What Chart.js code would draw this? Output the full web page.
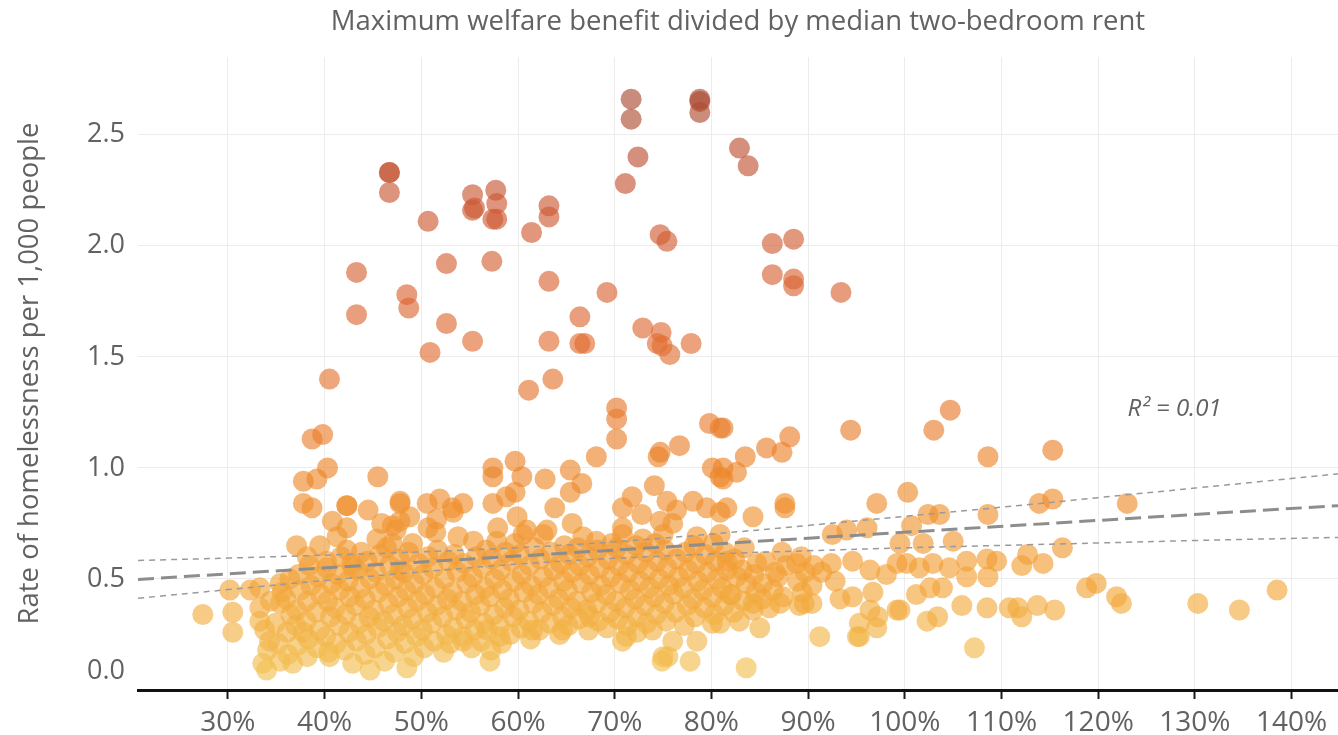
<!DOCTYPE html>
<html>
<head>
<meta charset="utf-8">
<script src="https://cdn.jsdelivr.net/npm/chart.js@4.4.1/dist/chart.umd.min.js"></script>
<style>
  html, body { margin: 0; padding: 0; background: #fff; }
  #wrap { width: 1338px; height: 735px; position: relative; }
</style>
</head>
<body>
<div id="wrap"><canvas id="welfareChart"></canvas></div>
<script>
const chartTitle = 'Maximum welfare benefit divided by median two-bedroom rent';
const yTitle = 'Rate of homelessness per 1,000 people';
const xTicks = [0.3, 0.4, 0.5, 0.6, 0.7, 0.8, 0.9, 1.0, 1.1, 1.2, 1.3, 1.4];
const yTicks = [0, 0.5, 1.0, 1.5, 2.0, 2.5];
const rSquared = '0.01';

// places: [benefit / rent, homeless per 1,000]
const highPoints = [
  [0.467,2.33],[0.467,2.33],[0.467,2.24],[0.433,1.88],[0.433,1.69],[0.507,2.11],[0.526,1.92],
  [0.485,1.78],[0.487,1.72],[0.509,1.52],[0.526,1.65],[0.553,2.23],[0.553,2.16],[0.555,2.17],
  [0.577,2.25],[0.578,2.19],[0.574,2.12],[0.578,2.12],[0.573,1.93],[0.553,1.57],[0.614,2.06],
  [0.632,2.18],[0.632,2.13],[0.632,1.84],[0.632,1.57],[0.636,1.40],[0.611,1.35],[0.664,1.68],
  [0.664,1.56],[0.669,1.56],[0.692,1.79],[0.717,2.66],[0.717,2.57],[0.724,2.40],[0.711,2.28],
  [0.729,1.63],[0.747,2.05],[0.754,2.02],[0.748,1.61],[0.744,1.56],[0.749,1.55],[0.757,1.51],
  [0.779,1.56],[0.788,2.66],[0.788,2.65],[0.788,2.60],[0.829,2.44],[0.838,2.36],[0.863,2.01],
  [0.863,1.87],[0.885,2.03],[0.885,1.85],[0.885,1.82],[0.934,1.79],[0.405,1.40],[0.702,1.27],
  [0.702,1.22],[0.702,1.13],[0.944,1.17],[1.047,1.26],[1.030,1.17],[1.153,1.08],[1.086,1.05]
];

const midPoints = [
  [0.387,1.13],[0.398,1.15],[0.403,1.00],[0.392,0.95],[0.378,0.94],[0.455,0.96],[0.378,0.84],
  [0.387,0.82],[0.423,0.83],[0.423,0.83],[0.445,0.81],[0.408,0.76],[0.423,0.73],[0.478,0.84],
  [0.478,0.85],[0.478,0.76],[0.459,0.75],[0.470,0.74],[0.488,0.78],[0.506,0.84],[0.519,0.86],
  [0.532,0.82],[0.507,0.73],[0.516,0.77],[0.681,1.05],[0.745,1.05],[0.747,1.07],[0.767,1.10],
  [0.798,1.20],[0.809,1.18],[0.801,1.00],[0.809,0.96],[0.574,1.00],[0.574,0.96],[0.597,1.03],
  [0.604,0.96],[0.597,0.89],[0.628,0.95],[0.654,0.99],[0.666,0.93],[0.654,0.89],[0.543,0.84],
  [0.533,0.80],[0.574,0.84],[0.599,0.78],[0.588,0.87],[0.638,0.82],[0.656,0.75],[0.630,0.72],
  [0.609,0.72],[0.579,0.73],[0.718,0.87],[0.708,0.82],[0.708,0.73],[0.728,0.79],[0.741,0.92],
  [0.754,0.85],[0.764,0.81],[0.747,0.76],[0.760,0.75],[0.781,0.85],[0.795,0.82],[0.809,0.80],
  [0.812,1.18],[0.881,1.14],[0.857,1.09],[0.873,1.07],[0.835,1.05],[0.812,1.00],[0.826,0.98],
  [0.812,0.95],[0.816,0.82],[0.843,0.78],[0.876,0.84],[0.876,0.82],[0.971,0.84],[1.003,0.89],
  [1.024,0.79],[1.036,0.79],[1.086,0.79],[1.007,0.74],[0.940,0.72],[0.961,0.73],[0.925,0.70],
  [1.139,0.84],[1.153,0.86],[1.230,0.84],[0.578,0.67],[0.605,0.70],[0.626,0.70],[0.667,0.69],
  [0.681,0.67],[0.708,0.70],[0.729,0.68],[0.750,0.70],[0.785,0.69],[0.809,0.70]
];

const edgePoints = [
  [0.274,0.34],[0.305,0.35],[0.305,0.26],[0.302,0.45],[0.323,0.45],[0.333,0.46],[0.354,0.48],
  [0.371,0.65],[0.395,0.65],[0.413,0.69],[0.382,0.60],[0.402,0.58],[0.423,0.63],[0.429,0.55],
  [0.333,0.37],[0.354,0.39],[0.371,0.36],[0.382,0.40],[0.333,0.31],[0.343,0.22],[0.361,0.26],
  [0.378,0.26],[0.336,0.12],[0.340,0.09],[0.354,0.13],[0.367,0.12],[0.382,0.15],[0.405,0.15],
  [0.429,0.12],[0.447,0.09],[0.485,0.10],[0.470,0.66],[0.491,0.66],[0.478,0.54],[0.442,0.16],
  [0.571,0.13],[0.712,0.24],[0.749,0.13],[0.755,0.15],[0.778,0.13],[0.836,0.10],[0.912,0.24],
  [0.951,0.24],[1.072,0.19],[0.581,0.24],[0.615,0.27],[0.646,0.27],[0.674,0.33],[0.708,0.22],
  [0.723,0.26],[0.750,0.15],[0.801,0.30],[0.785,0.22],[0.760,0.22],[0.739,0.27],[0.530,0.21],
  [0.543,0.22],[0.568,0.27]
];

const rightPoints = [
  [0.953,0.24],[0.971,0.28],[0.972,0.33],[0.992,0.36],[1.023,0.31],[1.034,0.33],[1.059,0.38],
  [1.085,0.37],[1.046,0.55],[1.064,0.58],[1.085,0.59],[1.095,0.58],[1.064,0.51],[1.086,0.51],
  [1.012,0.43],[1.026,0.46],[1.039,0.46],[1.015,0.55],[1.029,0.57],[1.002,0.57],[0.992,0.57],
  [0.964,0.54],[0.967,0.44],[0.946,0.42],[0.933,0.41],[0.928,0.49],[0.914,0.53],[0.924,0.57],
  [0.946,0.58],[0.981,0.52],[0.964,0.36],[0.953,0.30],[0.888,0.57],[0.889,0.49],[0.896,0.39],
  [0.904,0.39],[0.869,0.51],[0.871,0.39],[0.891,0.38],[0.850,0.28],[0.829,0.31],[0.809,0.30],
  [0.819,0.43],[0.832,0.54],[0.847,0.57],[0.853,0.48],[0.860,0.37],[0.843,0.39],[0.816,0.58],
  [1.108,0.37],[1.019,0.66],[1.050,0.67],[0.995,0.66],[1.121,0.56],[1.127,0.61],[1.143,0.57],
  [1.163,0.64],[1.188,0.46],[1.198,0.48],[1.219,0.42],[1.224,0.39],[1.303,0.39],[1.346,0.36],
  [1.385,0.45],[1.117,0.37],[1.121,0.33],[1.137,0.38],[1.155,0.36],[0.995,0.36]
];

const corePoints = [
  [0.341,0.18],[0.338,0.27],[0.344,0.40],[0.352,0.21],[0.349,0.30],[0.356,0.44],
  [0.362,0.16],[0.365,0.34],[0.360,0.41],[0.364,0.50],[0.372,0.20],[0.370,0.29],[0.375,0.45],[0.373,0.52],
  [0.383,0.23],[0.381,0.31],[0.386,0.47],[0.384,0.56],[0.392,0.19],[0.395,0.27],[0.391,0.35],[0.396,0.43],[0.393,0.51],
  [0.404,0.17],[0.401,0.24],[0.406,0.33],[0.403,0.40],[0.407,0.48],[0.402,0.55],
  [0.412,0.21],[0.415,0.29],[0.411,0.37],[0.416,0.45],[0.413,0.52],[0.417,0.60],
  [0.421,0.18],[0.425,0.26],[0.422,0.34],[0.426,0.42],[0.424,0.49],[0.428,0.57],
  [0.433,0.22],[0.436,0.30],[0.432,0.38],[0.437,0.46],[0.434,0.54],[0.438,0.62],
  [0.443,0.25],[0.446,0.33],[0.442,0.41],[0.447,0.50],[0.444,0.58],
  [0.452,0.19],[0.455,0.28],[0.451,0.36],[0.456,0.44],[0.453,0.53],[0.457,0.61],[0.454,0.68],
  [0.462,0.13],[0.465,0.23],[0.461,0.31],[0.466,0.39],[0.463,0.47],[0.467,0.56],[0.464,0.64],
  [0.472,0.17],[0.475,0.26],[0.471,0.34],[0.476,0.42],[0.473,0.50],[0.477,0.59],[0.474,0.72],
  [0.483,0.21],[0.481,0.29],[0.486,0.37],[0.484,0.45],[0.482,0.53],[0.487,0.62],
  [0.492,0.15],[0.495,0.24],[0.491,0.32],[0.496,0.40],[0.493,0.48],[0.497,0.57],
  [0.503,0.19],[0.501,0.27],[0.506,0.35],[0.504,0.43],[0.502,0.52],[0.507,0.60],
  [0.513,0.22],[0.511,0.30],[0.516,0.38],[0.514,0.46],[0.512,0.55],[0.517,0.63],[0.515,0.71],
  [0.523,0.17],[0.526,0.25],[0.522,0.33],[0.527,0.41],[0.524,0.50],[0.528,0.58],
  [0.533,0.28],[0.536,0.36],[0.532,0.44],[0.537,0.53],[0.534,0.61],[0.538,0.69],
  [0.543,0.24],[0.546,0.32],[0.542,0.40],[0.547,0.48],[0.544,0.57],
  [0.552,0.19],[0.555,0.27],[0.551,0.35],[0.556,0.43],[0.553,0.51],[0.557,0.60],[0.554,0.67],
  [0.562,0.22],[0.565,0.30],[0.561,0.38],[0.566,0.46],[0.563,0.55],[0.567,0.63],
  [0.572,0.18],[0.575,0.34],[0.571,0.42],[0.576,0.50],[0.573,0.59],
  [0.583,0.21],[0.581,0.29],[0.586,0.37],[0.584,0.45],[0.582,0.54],[0.587,0.62],
  [0.592,0.25],[0.595,0.33],[0.591,0.41],[0.596,0.49],[0.593,0.58],[0.597,0.66],
  [0.603,0.28],[0.601,0.36],[0.606,0.44],[0.604,0.52],[0.602,0.61],
  [0.613,0.23],[0.611,0.31],[0.616,0.39],[0.614,0.47],[0.612,0.56],[0.617,0.64],
  [0.622,0.27],[0.625,0.35],[0.621,0.43],[0.626,0.51],[0.623,0.59],
  [0.633,0.30],[0.636,0.38],[0.632,0.46],[0.637,0.54],[0.634,0.62],
  [0.643,0.25],[0.646,0.33],[0.642,0.41],[0.647,0.49],[0.644,0.57],[0.648,0.65],
  [0.652,0.29],[0.655,0.37],[0.651,0.45],[0.656,0.53],[0.653,0.61],
  [0.663,0.32],[0.661,0.40],[0.666,0.48],[0.664,0.56],[0.662,0.64],
  [0.673,0.27],[0.671,0.36],[0.676,0.44],[0.674,0.52],[0.672,0.60],
  [0.683,0.31],[0.681,0.39],[0.686,0.47],[0.684,0.55],[0.682,0.63],
  [0.692,0.28],[0.695,0.35],[0.691,0.43],[0.696,0.51],[0.693,0.59],[0.697,0.66],
  [0.703,0.32],[0.701,0.40],[0.706,0.48],[0.704,0.56],[0.702,0.64],
  [0.713,0.29],[0.711,0.37],[0.716,0.45],[0.714,0.53],[0.712,0.61],
  [0.723,0.33],[0.721,0.41],[0.726,0.49],[0.724,0.57],[0.722,0.65],
  [0.733,0.30],[0.731,0.38],[0.736,0.46],[0.734,0.54],[0.732,0.62],
  [0.743,0.34],[0.741,0.42],[0.746,0.50],[0.744,0.58],[0.742,0.66],
  [0.753,0.31],[0.751,0.39],[0.756,0.47],[0.754,0.55],[0.752,0.63],
  [0.763,0.35],[0.761,0.43],[0.766,0.51],[0.764,0.59],
  [0.772,0.29],[0.775,0.38],[0.771,0.46],[0.776,0.54],[0.773,0.62],
  [0.783,0.33],[0.781,0.41],[0.786,0.49],[0.784,0.57],[0.782,0.65],
  [0.793,0.37],[0.791,0.45],[0.796,0.53],[0.794,0.61],
  [0.803,0.34],[0.801,0.42],[0.806,0.50],[0.804,0.58],[0.802,0.66],
  [0.813,0.38],[0.811,0.46],[0.816,0.54],[0.814,0.62],
  [0.823,0.35],[0.821,0.43],[0.826,0.51],[0.824,0.59],
  [0.833,0.40],[0.836,0.48],[0.834,0.64],[0.843,0.36],[0.846,0.44],[0.844,0.52],
  [0.853,0.41],[0.856,0.58],[0.864,0.45],[0.866,0.53],[0.874,0.42],[0.877,0.56],[0.873,0.62],
  [0.894,0.44],[0.897,0.53],[0.893,0.60],[0.904,0.47],[0.906,0.56]
];

// trend line and its band
const fitX = [0.207, 1.448];
const fitY = [0.498, 0.830];
const bandX = [0.207, 0.3, 0.4, 0.5, 0.6, 0.7, 0.8, 0.9, 1.0, 1.1, 1.2, 1.3, 1.448];
const bandUpper = [0.583, 0.594, 0.607, 0.622, 0.641, 0.667, 0.702, 0.741, 0.782, 0.823, 0.866, 0.909, 0.973];
const bandLower = [0.413, 0.452, 0.493, 0.532, 0.567, 0.593, 0.612, 0.627, 0.640, 0.651, 0.662, 0.673, 0.687];

const FONT = '"Open Sans", "DejaVu Sans", sans-serif';
const TEXT = '#626262';

// yellow -> orange -> brown, by homelessness rate
const shadeAt = [0, 0.5, 1.0, 1.6, 2.2, 2.7];
const shadeRGB = [[243,198,88],[243,162,54],[237,133,42],[224,108,52],[204,88,52],[168,72,50]];
function pointColor(v) {
    let i = 0;
    while (i < shadeAt.length - 2 && v > shadeAt[i + 1]) i++;
    let t = (v - shadeAt[i]) / (shadeAt[i + 1] - shadeAt[i]);
    t = Math.max(0, Math.min(1, t));
    const a = shadeRGB[i], b = shadeRGB[i + 1];
    const c = a.map((n, k) => Math.round(n + (b[k] - n) * t));
    return 'rgba(' + c[0] + ',' + c[1] + ',' + c[2] + ',0.64)';
}

const toXY = p => ({ x: p[0], y: p[1] });
const allPoints = [].concat(corePoints, edgePoints, rightPoints, midPoints, highPoints).map(toXY);

const textPlugin = {
    id: 'texts',
    afterDraw(chart) {
        const { ctx, chartArea, scales } = chart;
        ctx.save();
        ctx.fillStyle = TEXT;
        ctx.textBaseline = 'middle';

        ctx.font = '500 27.5px ' + FONT;
        ctx.textAlign = 'center';
        ctx.fillText(chartTitle, (chartArea.left + chartArea.right) / 2, 22);

        // 0.0 sits a little above the axis line
        ctx.font = '27px ' + FONT;
        ctx.textAlign = 'right';
        ctx.fillText('0.0', 125, 671);

        ctx.font = 'italic 24px ' + FONT;
        ctx.textAlign = 'center';
        ctx.fillText('R\u00B2 = ' + rSquared, scales.x.getPixelForValue(1.279), scales.y.getPixelForValue(1.265));

        ctx.font = '27.5px ' + FONT;
        ctx.translate(30, (chartArea.top + chartArea.bottom) / 2);
        ctx.rotate(-Math.PI / 2);
        ctx.fillText(yTitle, 0, 0);
        ctx.restore();
    }
};

const ctx = document.getElementById('welfareChart').getContext('2d');
new Chart(ctx, {
    type: 'scatter',
    data: {
        datasets: [
            {
                label: 'Fit',
                data: fitX.map((x, i) => ({ x: x, y: fitY[i] })),
                showLine: true,
                borderColor: '#8d8d8d',
                borderWidth: 3,
                borderDash: [16, 7],
                pointRadius: 0,
                tension: 0,
                order: 0
            },
            {
                label: 'Upper',
                data: bandX.map((x, i) => ({ x: x, y: bandUpper[i] })),
                showLine: true,
                borderColor: '#9a9a9a',
                borderWidth: 1.5,
                borderDash: [6, 5],
                pointRadius: 0,
                tension: 0.4,
                order: 0
            },
            {
                label: 'Lower',
                data: bandX.map((x, i) => ({ x: x, y: bandLower[i] })),
                showLine: true,
                borderColor: '#9a9a9a',
                borderWidth: 1.5,
                borderDash: [6, 5],
                pointRadius: 0,
                tension: 0.4,
                order: 0
            },
            {
                label: 'Places',
                data: allPoints,
                backgroundColor: c => pointColor(c.raw ? c.raw.y : 0),
                borderWidth: 0,
                pointRadius: 10.5,
                order: 1
            }
        ]
    },
    options: {
        responsive: true,
        maintainAspectRatio: false,
        animation: false,
        layout: { autoPadding: false, padding: { top: 57, right: 0, left: 0, bottom: 0 } },
        plugins: {
            legend: { display: false },
            tooltip: { enabled: false },
            title: { display: false }
        },
        scales: {
            x: {
                type: 'linear',
                min: 0.207,
                max: 1.448,
                afterBuildTicks: s => { s.ticks = xTicks.map(v => ({ value: v })); },
                afterFit: s => { s.height = 45; },
                ticks: {
                    callback: v => Math.round(v * 100) + '%',
                    color: TEXT,
                    font: { family: FONT, size: 28 },
                    padding: 7,
                    maxRotation: 0,
                    autoSkip: false
                },
                grid: {
                    color: '#ececec',
                    lineWidth: 1,
                    tickColor: '#1a1a1a',
                    tickWidth: 2,
                    tickLength: 9
                },
                border: { color: '#111', width: 3 }
            },
            y: {
                type: 'linear',
                min: 0,
                max: 2.85,
                afterBuildTicks: s => { s.ticks = yTicks.map(v => ({ value: v })); },
                afterFit: s => { s.width = 138; },
                ticks: {
                    callback: v => (v === 0 ? '' : v.toFixed(1)),
                    color: TEXT,
                    font: { family: FONT, size: 27 },
                    padding: 13
                },
                grid: { color: '#ececec', lineWidth: 1, drawTicks: false },
                border: { display: false }
            }
        }
    },
    plugins: [textPlugin]
});
</script>
</body>
</html>
